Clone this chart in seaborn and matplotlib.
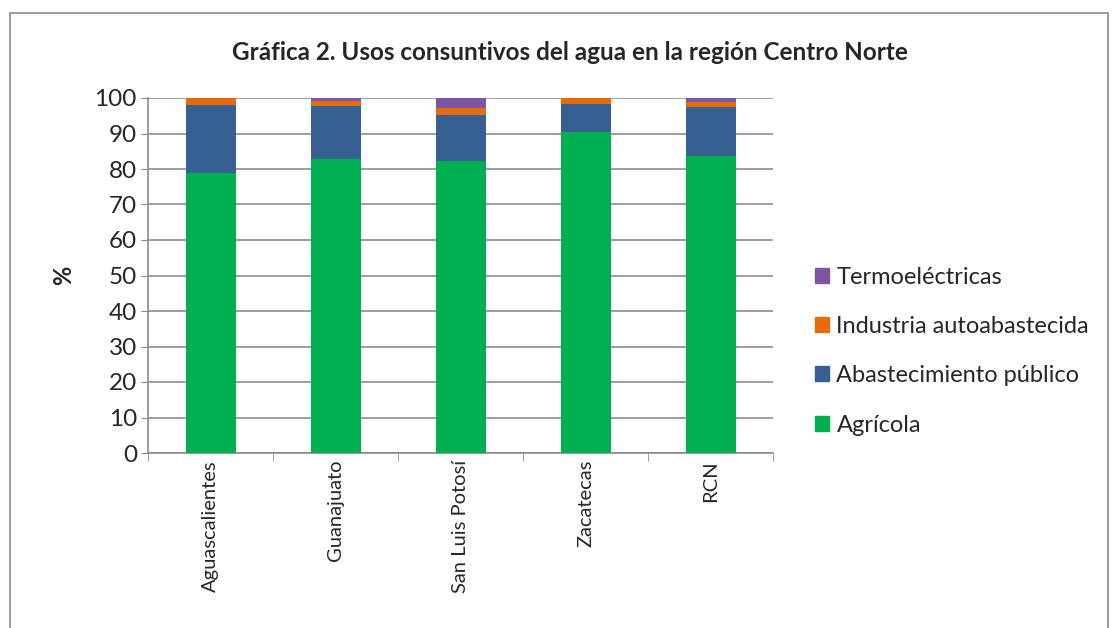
import matplotlib.pyplot as plt
import matplotlib.patches as mpatches
import numpy as np
import pandas as pd
import seaborn as sns

# values (percent)
regions = ['Aguascalientes', 'Guanajuato', 'San Luis Potosí', 'Zacatecas', 'RCN']
agricola = [78.9, 82.8, 82.3, 90.4, 83.7]
abastecimiento = [19.1, 14.9, 12.9, 7.9, 13.8]
industria = [2.0, 1.5, 2.0, 1.7, 1.5]
termo = [0.0, 0.8, 2.8, 0.0, 1.0]

series = ['Agrícola', 'Abastecimiento público', 'Industria autoabastecida', 'Termoeléctricas']
colors = ['#00B050', '#376092', '#E46C0A', '#7D56A3']

sns.set_style('white')
plt.rcParams['font.family'] = ['Lato', 'DejaVu Sans']

df = pd.DataFrame({'region': regions, series[0]: agricola, series[1]: abastecimiento,
                   series[2]: industria, series[3]: termo})
cum = df[series].cumsum(axis=1)

fig = plt.figure(figsize=(11.16, 6.28), dpi=100)
ax = fig.add_axes([148 / 1116, 1 - 453 / 628, 625 / 1116, 355 / 628])

# draw stacked bars: tallest cumulative first so lower layers sit on top
for name, color in reversed(list(zip(series, colors))):
    sns.barplot(x=df['region'], y=cum[name], color=color, width=0.4,
                saturation=1, linewidth=0, ax=ax, zorder=3)

ax.set_ylim(0, 100)
ax.set_xlim(-0.5, 4.5)
ax.set_yticks(np.arange(0, 101, 10))
ax.yaxis.grid(True, color='#8c8c8c', linewidth=1.2, zorder=0)
ax.set_axisbelow(True)
ax.tick_params(axis='y', labelsize=17.5, length=5, color='#8c8c8c', direction='out',
               left=True, pad=3)
ax.tick_params(axis='x', labelsize=14.5, length=0, pad=5)
ax.set_xticks(range(len(regions)))
ax.set_xticklabels(regions, rotation=90)
ax.set_xticks(np.arange(-0.5, 5, 1), minor=True)
ax.tick_params(axis='x', which='minor', length=6, color='#8c8c8c', bottom=True)
for s in ['top', 'right']:
    ax.spines[s].set_visible(False)
for s in ['left', 'bottom']:
    ax.spines[s].set_color('#8c8c8c')
    ax.spines[s].set_linewidth(1.2)
ax.set_xlabel('')
ax.set_ylabel('%', fontsize=17, fontweight='bold', labelpad=14)

fig.text(570 / 1116, 1 - 52 / 628, 'Gráfica 2. Usos consuntivos del agua en la región Centro Norte',
         ha='center', va='center', fontsize=17.5, fontweight='bold')

handles = [mpatches.Patch(color=c, label=n) for n, c in zip(series, colors)][::-1]
fig.legend(handles=handles, loc='center left', bbox_to_anchor=(794 / 1116, 1 - 351 / 628),
           frameon=False, fontsize=17, handlelength=0.6, handleheight=0.6,
           handletextpad=0.3, labelspacing=1.2)

fig.patches.append(mpatches.Rectangle((10 / 1116, -0.05), 1098 / 1116, 1.05 - 13 / 628,
                                      transform=fig.transFigure, fill=False,
                                      edgecolor='#8c8c8c', linewidth=1.2))

fig.savefig('out.png', dpi=100, facecolor='white')
